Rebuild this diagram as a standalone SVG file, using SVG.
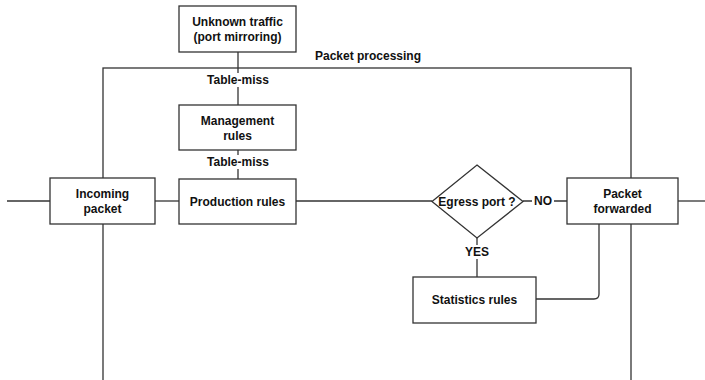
<svg xmlns="http://www.w3.org/2000/svg" width="705" height="380" viewBox="0 0 705 380">
<style>
.n{fill:#fff;stroke:#333;stroke-width:1.3}
.c{fill:none;stroke:#333;stroke-width:1.3}
text{font-family:"Liberation Sans",Arial,sans-serif;font-size:12px;font-weight:bold;fill:#111;text-anchor:middle}
.lb{fill:#fff}
</style>
<rect width="705" height="380" fill="#fff"/>
<g id="frame">
<rect x="103" y="68" width="528" height="340" class="c"/>
<text x="368" y="60">Packet processing</text>
</g>
<g id="connectors">
<line x1="7" y1="201" x2="50" y2="201" class="c"/>
<line x1="155" y1="201" x2="179" y2="201" class="c"/>
<line x1="296" y1="201" x2="432" y2="201" class="c"/>
<line x1="523" y1="201" x2="567" y2="201" class="c"/>
<line x1="678" y1="201" x2="705" y2="201" class="c"/>
<line x1="238" y1="52" x2="238" y2="105" class="c"/>
<line x1="238" y1="150" x2="238" y2="179" class="c"/>
<line x1="477" y1="238" x2="477" y2="277" class="c"/>
<path d="M599 224 V294 Q599 299 594 299 H536" class="c"/>
<rect x="206" y="73" width="64" height="14" class="lb"/>
<text x="238" y="84">Table-miss</text>
<rect x="206" y="155" width="64" height="14" class="lb"/>
<text x="238" y="166">Table-miss</text>
<rect x="532" y="194" width="22" height="14" class="lb"/>
<text x="543" y="205">NO</text>
<rect x="465" y="245" width="24" height="14" class="lb"/>
<text x="477" y="256">YES</text>
</g>
<g id="unknown">
<rect x="179" y="6" width="117" height="46" class="n"/>
<text x="237.5" y="26">Unknown traffic</text>
<text x="237.5" y="41">(port mirroring)</text>
</g>
<g id="management">
<rect x="179" y="105" width="117" height="45" class="n"/>
<text x="237.5" y="125">Management</text>
<text x="237.5" y="140">rules</text>
</g>
<g id="incoming">
<rect x="50" y="178" width="105" height="46" class="n"/>
<text x="102.5" y="198">Incoming</text>
<text x="102.5" y="213">packet</text>
</g>
<g id="production">
<rect x="179" y="179" width="117" height="45" class="n"/>
<text x="237.5" y="206">Production rules</text>
</g>
<g id="egress">
<polygon points="477,165 523,201.5 477,238 432,201.5" class="n"/>
<text x="477" y="206">Egress port ?</text>
</g>
<g id="forwarded">
<rect x="567" y="178" width="111" height="46" class="n"/>
<text x="622.5" y="198">Packet</text>
<text x="622.5" y="213">forwarded</text>
</g>
<g id="statistics">
<rect x="413" y="277" width="123" height="46" class="n"/>
<text x="474.5" y="304">Statistics rules</text>
</g>
</svg>
